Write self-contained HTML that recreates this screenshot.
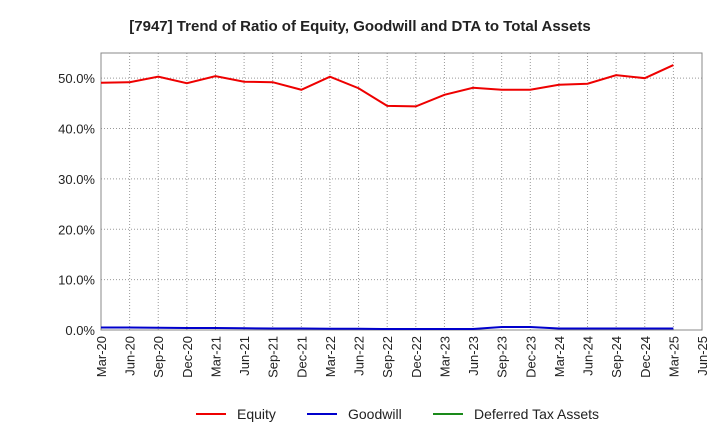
<!DOCTYPE html>
<html><head><meta charset="utf-8"><style>
body{margin:0;background:#fff;font-family:"Liberation Sans",sans-serif;}
</style></head><body>
<svg id="c" width="720" height="440" xmlns="http://www.w3.org/2000/svg">
<text x="360" y="31" text-anchor="middle" font-size="15" font-weight="bold" fill="#222">[7947]  Trend of Ratio of Equity, Goodwill and DTA to Total Assets</text>
<g id="grid"></g><g id="axes"></g><g id="series"></g>
<g>
<line x1="196" y1="414" x2="226" y2="414" stroke="#e00" stroke-width="2"/><text x="237" y="419" font-size="14" fill="#222">Equity</text>
<line x1="307" y1="414" x2="337" y2="414" stroke="#00c" stroke-width="2"/><text x="348" y="419" font-size="14" fill="#222">Goodwill</text>
<line x1="433" y1="414" x2="463" y2="414" stroke="#1a8a1a" stroke-width="2"/><text x="474" y="419" font-size="14" fill="#222">Deferred Tax Assets</text>
</g>
</svg>
<script>
const categories=["Mar-20","Jun-20","Sep-20","Dec-20","Mar-21","Jun-21","Sep-21","Dec-21","Mar-22","Jun-22","Sep-22","Dec-22","Mar-23","Jun-23","Sep-23","Dec-23","Mar-24","Jun-24","Sep-24","Dec-24","Mar-25","Jun-25"];
const equity=[49.1,49.2,50.3,49.0,50.4,49.3,49.2,47.7,50.3,48.0,44.5,44.4,46.7,48.1,47.7,47.7,48.7,48.9,50.6,50.0,52.6];
const goodwill=[0.5,0.5,0.45,0.4,0.4,0.35,0.3,0.3,0.25,0.25,0.2,0.2,0.2,0.2,0.6,0.6,0.3,0.3,0.3,0.3,0.3];
const dta=[];
const yTicks=[0,10,20,30,40,50];
const NS="http://www.w3.org/2000/svg";
const X0=101,X1=702,Y0=330,YT=53,YMAX=55;
const xs=i=>X0+(X1-X0)*i/(categories.length-1);
const ys=v=>Y0-(Y0-YT)*v/YMAX;
function mk(t,a,p){const e=document.createElementNS(NS,t);for(const k in a)e.setAttribute(k,a[k]);p.appendChild(e);return e;}
const g=document.getElementById('grid'),ax=document.getElementById('axes'),se=document.getElementById('series');
categories.forEach((c,i)=>{
 const l=mk('line',{x1:xs(i),x2:xs(i),y1:YT,y2:Y0,stroke:'#999','stroke-dasharray':'1,2','stroke-width':1},g);
 
 
 const t=mk('text',{transform:`translate(${xs(i)+5},${Y0+6}) rotate(-90)`,'text-anchor':'end','font-size':13,fill:'#222'},ax);
 t.textContent=c;
 
 
});
yTicks.forEach(v=>{
 const l=mk('line',{x1:X0,x2:X1,y1:ys(v),y2:ys(v),stroke:'#999','stroke-dasharray':'1,2','stroke-width':1},g);
 
 
 const t=mk('text',{x:X0-6,y:ys(v)+5,'text-anchor':'end','font-size':13,fill:'#222'},ax);
 t.textContent=v.toFixed(1)+'%';
 
 
});
const r=mk('rect',{x:X0,y:YT,width:X1-X0,height:Y0-YT,fill:'none',stroke:'#888'},ax);


function line(d,col,name){if(!d.length)return;const p=mk('polyline',{points:d.map((v,i)=>xs(i)+','+ys(v)).join(' '),fill:'none',stroke:col,'stroke-width':2},se);
 
 }
line(dta,'#1a8a1a','dta-line');line(goodwill,'#00c','goodwill-line');line(equity,'#e00','equity-line');
</script>
</body></html>
